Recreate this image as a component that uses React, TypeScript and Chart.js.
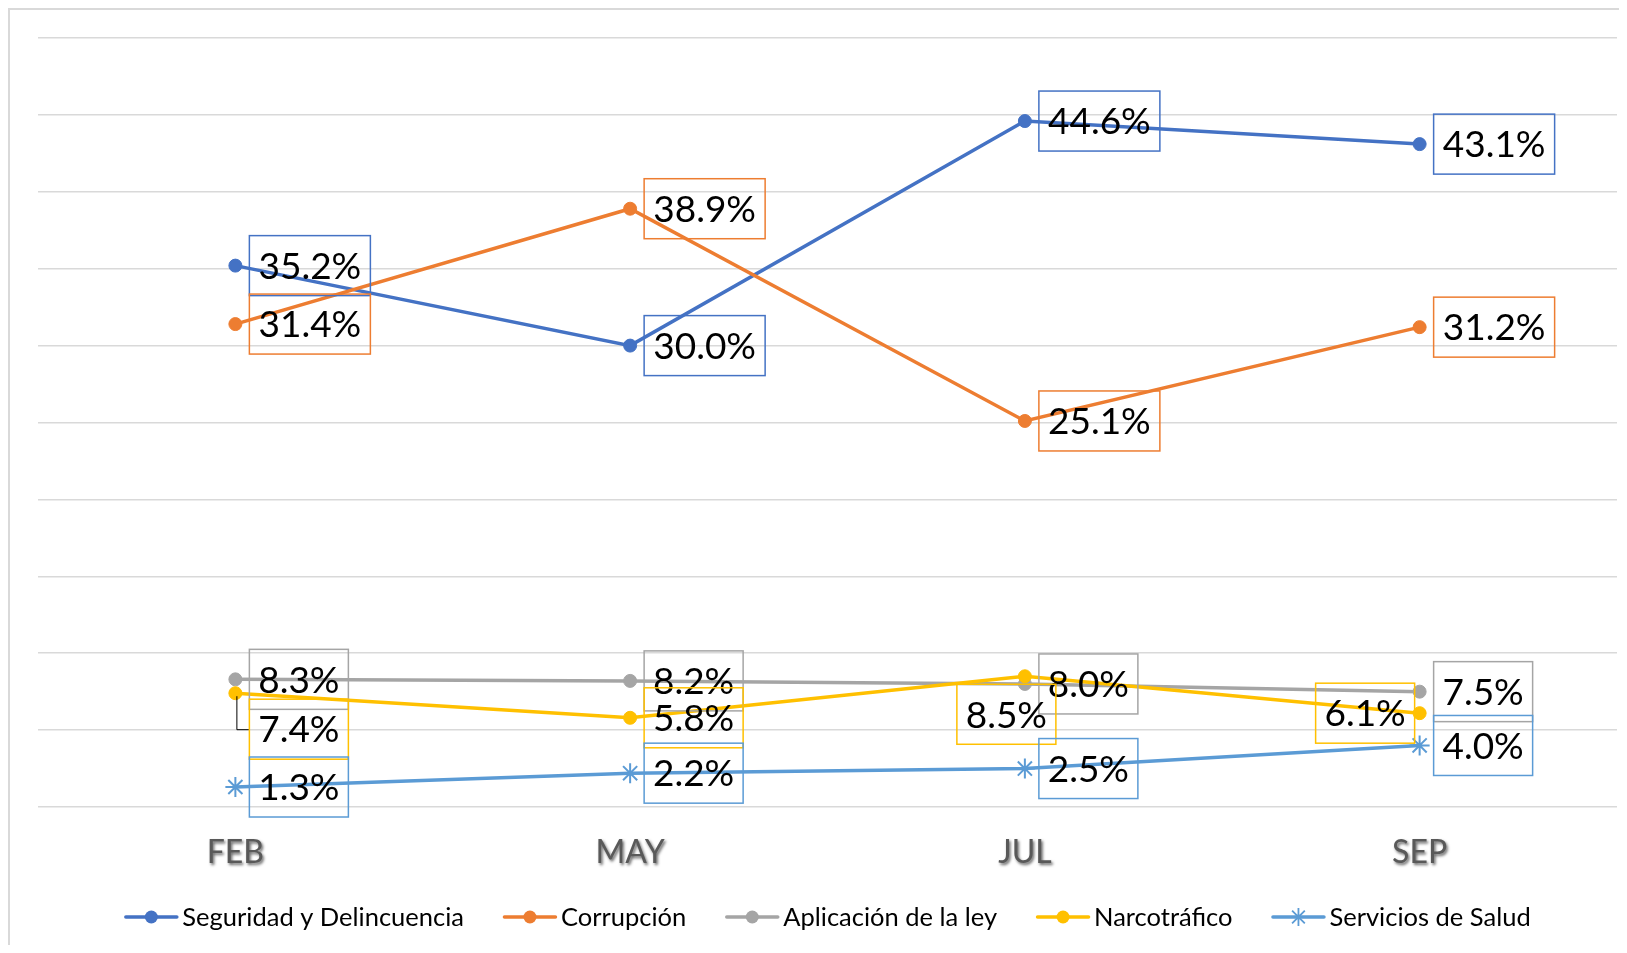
import React, { useEffect, useRef } from "react";
import { Chart, registerables } from "chart.js";

Chart.register(...registerables);

// ---- data ----
const months = ["FEB", "MAY", "JUL", "SEP"];
const seriesNames = [
  "Seguridad y Delincuencia",
  "Corrupción",
  "Aplicación de la ley",
  "Narcotráfico",
  "Servicios de Salud",
];
const seguridad = [35.2, 30.0, 44.6, 43.1];
const corrupcion = [31.4, 38.9, 25.1, 31.2];
const aplicacion = [8.3, 8.2, 8.0, 7.5];
const narcotrafico = [7.4, 5.8, 8.5, 6.1];
const salud = [1.3, 2.2, 2.5, 4.0];
const yMin = 0;
const yMax = 50;
const yStep = 5;

// ---- styles ----
const colors = ["#4472C4", "#ED7D31", "#A5A5A5", "#FFC000", "#5B9BD5"];
const markers = ["circle", "circle", "circle", "circle", "star"];
const LABEL_FONT = 37;
const LEGEND_FONT = 25.5;
const TICK_FONT = 32;
const FONT_FAMILY = "Lato, 'Open Sans', sans-serif";

// manual label placements (series-index - point-index)
const labelPlacement: Record<string, { dx?: number; dy?: number; side?: string; leader?: boolean }> = {
  "3-0": { dy: 36, leader: true },
  "3-2": { dx: -68, dy: 38 },
  "3-3": { side: "left" },
};

const boxLabelsPlugin = {
  id: "boxLabels",
  afterDatasetsDraw(chart: any) {
    const ctx = chart.ctx as CanvasRenderingContext2D;
    ctx.save();
    ctx.font = `${LABEL_FONT}px ${FONT_FAMILY}`;
    ctx.textAlign = "center";
    ctx.textBaseline = "alphabetic";
    const capH = LABEL_FONT * 0.7165;
    chart.data.datasets.forEach((ds: any, di: number) => {
      const meta = chart.getDatasetMeta(di);
      meta.data.forEach((pt: any, i: number) => {
        const v = ds.data[i] as number;
        const text = v.toFixed(1) + "%";
        const tw = ctx.measureText(text).width;
        const w = Math.round(tw + 18);
        const h = 60;
        const p = labelPlacement[`${di}-${i}`] || {};
        const left = p.side === "left" ? pt.x - 5 - w : pt.x + (p.dx ?? 14);
        const cy = pt.y + (p.dy ?? 0);
        const top = cy - h / 2;
        if (p.leader) {
          ctx.beginPath();
          ctx.strokeStyle = "#000";
          ctx.lineWidth = 1;
          ctx.moveTo(pt.x + 1.5, pt.y + 3);
          ctx.lineTo(pt.x + 1.5, cy + 0.5);
          ctx.lineTo(left, cy + 0.5);
          ctx.stroke();
        }
        ctx.strokeStyle = ds.borderColor;
        ctx.lineWidth = 1.5;
        ctx.strokeRect(left, top, w, h);
        ctx.fillStyle = "#000";
        ctx.fillText(text, left + w / 2, cy + capH / 2);
      });
    });
    ctx.restore();
  },
};

const axisLabelsPlugin = {
  id: "axisLabels",
  afterDraw(chart: any) {
    const ctx = chart.ctx as CanvasRenderingContext2D;
    const xs = chart.scales.x;
    const y = chart.chartArea.bottom + 46;
    ctx.save();
    ctx.font = `${TICK_FONT}px ${FONT_FAMILY}`;
    ctx.textAlign = "center";
    ctx.textBaseline = "middle";
    ctx.fillStyle = "#595959";
    ctx.shadowColor = "rgba(0,0,0,0.6)";
    ctx.shadowOffsetX = 1.5;
    ctx.shadowOffsetY = 1.5;
    ctx.shadowBlur = 3;
    chart.data.labels.forEach((lab: string, i: number) => {
      ctx.fillText(lab, xs.getPixelForValue(i), y);
    });
    ctx.restore();
  },
};

function drawSymbol(ctx: CanvasRenderingContext2D, x: number, y: number, color: string, marker: string) {
  ctx.save();
  ctx.strokeStyle = color;
  ctx.fillStyle = color;
  ctx.lineWidth = 3.5;
  ctx.lineCap = "round";
  ctx.beginPath();
  ctx.moveTo(x + 1.5, y);
  ctx.lineTo(x + 52.5, y);
  ctx.stroke();
  const cx = x + 27;
  if (marker === "circle") {
    ctx.beginPath();
    ctx.arc(cx, y, 6.5, 0, Math.PI * 2);
    ctx.fill();
  } else {
    ctx.lineWidth = 1.8;
    ctx.lineCap = "butt";
    const r = 9;
    const d = r * Math.SQRT1_2;
    ctx.beginPath();
    ctx.moveTo(cx, y - r);
    ctx.lineTo(cx, y + r);
    ctx.moveTo(cx - r, y);
    ctx.lineTo(cx + r, y);
    ctx.moveTo(cx - d, y - d);
    ctx.lineTo(cx + d, y + d);
    ctx.moveTo(cx - d, y + d);
    ctx.lineTo(cx + d, y - d);
    ctx.stroke();
  }
  ctx.restore();
}

const legendPlugin = {
  id: "customLegend",
  afterDraw(chart: any) {
    const ctx = chart.ctx as CanvasRenderingContext2D;
    const area = chart.chartArea;
    const y = area.bottom + 110;
    ctx.save();
    ctx.font = `${LEGEND_FONT}px ${FONT_FAMILY}`;
    ctx.textBaseline = "alphabetic";
    ctx.textAlign = "left";
    const symW = 54;
    const gapText = 4;
    const gapItem = 39;
    const items = chart.data.datasets.map((ds: any, i: number) => ({
      label: ds.label as string,
      color: ds.borderColor as string,
      marker: markers[i],
      tw: ctx.measureText(ds.label).width,
    }));
    const total =
      items.reduce((s: number, it: any) => s + symW + gapText + it.tw, 0) + gapItem * (items.length - 1);
    let x = (area.left + area.right) / 2 - total / 2;
    items.forEach((it: any) => {
      drawSymbol(ctx, x, y, it.color, it.marker);
      x += symW + gapText;
      ctx.fillStyle = "#000";
      ctx.fillText(it.label, x, y + (LEGEND_FONT * 0.7165) / 2);
      x += it.tw + gapItem;
    });
    ctx.restore();
  },
};

export default function App() {
  const canvasRef = useRef<HTMLCanvasElement | null>(null);

  useEffect(() => {
    if (!canvasRef.current) return;
    const seriesValues = [seguridad, corrupcion, aplicacion, narcotrafico, salud];
    const n = seriesValues.length;
    const chart = new Chart(canvasRef.current, {
      type: "line",
      data: {
        labels: months,
        datasets: seriesValues.map((vals, i) => ({
          label: seriesNames[i],
          data: vals,
          borderColor: colors[i],
          backgroundColor: colors[i],
          borderWidth: 3.5,
          pointStyle: markers[i] as any,
          pointRadius: markers[i] === "star" ? 10 : 6.5,
          pointBorderWidth: markers[i] === "star" ? 2 : 1,
          pointBackgroundColor: colors[i],
          pointBorderColor: colors[i],
          tension: 0,
          fill: false,
          order: n - i,
        })),
      },
      options: {
        responsive: false,
        animation: false,
        devicePixelRatio: 1,
        layout: { autoPadding: false, padding: { left: 28, right: 2, top: 28, bottom: 138 } },
        plugins: {
          legend: { display: false },
          tooltip: { enabled: false },
        },
        scales: {
          x: {
            display: false,
            offset: true,
          },
          y: {
            min: yMin,
            max: yMax,
            ticks: { display: false, stepSize: yStep },
            border: { display: false },
            grid: { color: "#d9d9d9", lineWidth: 1.5, drawTicks: false },
          },
        },
      },
      plugins: [boxLabelsPlugin, axisLabelsPlugin, legendPlugin],
    });
    return () => chart.destroy();
  }, []);

  return (
    <div
      style={{
        width: 1611,
        height: 937,
        boxSizing: "border-box",
        borderLeft: "2px solid #d9d9d9",
        borderTop: "2px solid #d9d9d9",
        background: "#fff",
        overflow: "hidden",
      }}
    >
      <canvas ref={canvasRef} width={1609} height={935} style={{ display: "block" }} />
    </div>
  );
}
